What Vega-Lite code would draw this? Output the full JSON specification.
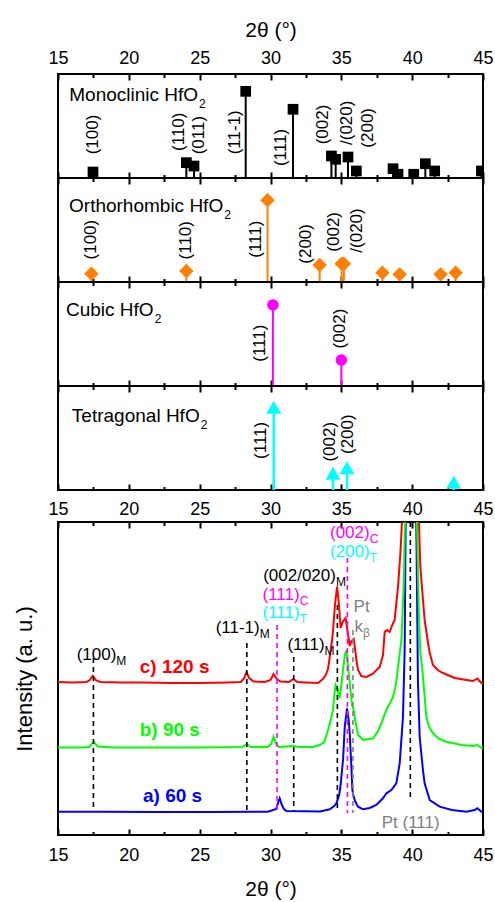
{
"$schema":"https://vega.github.io/schema/vega-lite/v6.json",
"background":"white",
"padding":{"left":12,"top":18,"right":5,"bottom":0},
"config":{"font":"Liberation Sans","view":{"stroke":"black","strokeWidth":2},
 "axis":{"labelFont":"Liberation Sans","titleFont":"Liberation Sans","labelColor":"black","titleColor":"black","tickColor":"black","tickWidth":2,"domain":false,"grid":false,"labelFontSize":18,"titleFontSize":21,"titleFontWeight":"normal","labelFlush":false,"labelOverlap":false,"labelBound":false},
 "text":{"font":"Liberation Sans"}},
"datasets":{
"sticks":[
{"phase":"Monoclinic","two_theta":17.47,"intensity":6.9},
{"phase":"Monoclinic","two_theta":24.06,"intensity":17.7},
{"phase":"Monoclinic","two_theta":24.60,"intensity":13.8},
{"phase":"Monoclinic","two_theta":28.25,"intensity":100},
{"phase":"Monoclinic","two_theta":31.59,"intensity":79.3},
{"phase":"Monoclinic","two_theta":34.30,"intensity":25.4},
{"phase":"Monoclinic","two_theta":34.60,"intensity":21.6},
{"phase":"Monoclinic","two_theta":35.47,"intensity":24.2},
{"phase":"Monoclinic","two_theta":36.06,"intensity":8.1},
{"phase":"Monoclinic","two_theta":38.65,"intensity":10.7},
{"phase":"Monoclinic","two_theta":39.00,"intensity":4.3},
{"phase":"Monoclinic","two_theta":40.11,"intensity":4.3},
{"phase":"Monoclinic","two_theta":40.93,"intensity":16.5},
{"phase":"Monoclinic","two_theta":41.59,"intensity":8.1},
{"phase":"Monoclinic","two_theta":44.89,"intensity":8.1},
{"phase":"Orthorhombic","two_theta":17.36,"intensity":9.6},
{"phase":"Orthorhombic","two_theta":24.06,"intensity":12.7},
{"phase":"Orthorhombic","two_theta":29.79,"intensity":94.2},
{"phase":"Orthorhombic","two_theta":33.47,"intensity":19.6},
{"phase":"Orthorhombic","two_theta":35.02,"intensity":21},
{"phase":"Orthorhombic","two_theta":35.18,"intensity":21},
{"phase":"Orthorhombic","two_theta":37.90,"intensity":10.7},
{"phase":"Orthorhombic","two_theta":39.12,"intensity":8.8},
{"phase":"Orthorhombic","two_theta":42.01,"intensity":8.8},
{"phase":"Orthorhombic","two_theta":43.07,"intensity":10.7},
{"phase":"Cubic","two_theta":30.17,"intensity":93.5},
{"phase":"Cubic","two_theta":35.0,"intensity":30},
{"phase":"Tetragonal","two_theta":30.23,"intensity":95.4},
{"phase":"Tetragonal","two_theta":34.41,"intensity":19.3},
{"phase":"Tetragonal","two_theta":35.40,"intensity":25.6},
{"phase":"Tetragonal","two_theta":42.93,"intensity":8.9}
],
"hkl":[
{"phase":"Monoclinic","label":"(100)","two_theta":17.47,"y":27.3},
{"phase":"Monoclinic","label":"(110)","two_theta":23.52,"y":31.2},
{"phase":"Monoclinic","label":"(011)","two_theta":24.93,"y":27.3},
{"phase":"Monoclinic","label":"(11-1)","two_theta":27.47,"y":27.3},
{"phase":"Monoclinic","label":"(111)","two_theta":30.77,"y":13.8},
{"phase":"Monoclinic","label":"(002)","two_theta":33.71,"y":38.9},
{"phase":"Monoclinic","label":"/(020)","two_theta":35.40,"y":38.1},
{"phase":"Monoclinic","label":"(200)","two_theta":36.88,"y":35},
{"phase":"Orthorhombic","label":"(100)","two_theta":17.36,"y":26},
{"phase":"Orthorhombic","label":"(110)","two_theta":24.06,"y":26},
{"phase":"Orthorhombic","label":"(111)","two_theta":29.0,"y":28},
{"phase":"Orthorhombic","label":"(200)","two_theta":32.48,"y":21.1},
{"phase":"Orthorhombic","label":"(002)","two_theta":34.46,"y":35},
{"phase":"Orthorhombic","label":"/(020)","two_theta":36.1,"y":33.8},
{"phase":"Cubic","label":"(111)","two_theta":29.23,"y":28},
{"phase":"Cubic","label":"(002)","two_theta":34.88,"y":43.4},
{"phase":"Tetragonal","label":"(111)","two_theta":29.36,"y":35.8},
{"phase":"Tetragonal","label":"(002)","two_theta":34.23,"y":32.8},
{"phase":"Tetragonal","label":"(200)","two_theta":35.47,"y":41.5}
],
"phases":[
{"phase":"Monoclinic","name":"Monoclinic HfO","sub":"2","end":24.89,"y":88.3},
{"phase":"Orthorhombic","name":"Orthorhombic HfO","sub":"2","end":26.66,"y":80.8},
{"phase":"Cubic","name":"Cubic HfO","sub":"2","end":21.75,"y":81},
{"phase":"Tetragonal","name":"Tetragonal HfO","sub":"2","end":25.0,"y":79}
],
"xrd":[
{"sample":"a) 60 s","two_theta":15,"intensity":23.3},{"sample":"a) 60 s","two_theta":18,"intensity":23.3},{"sample":"a) 60 s","two_theta":22,"intensity":23},{"sample":"a) 60 s","two_theta":26,"intensity":23},{"sample":"a) 60 s","two_theta":29.82,"intensity":23.3},{"sample":"a) 60 s","two_theta":30.4,"intensity":26},{"sample":"a) 60 s","two_theta":30.55,"intensity":33},{"sample":"a) 60 s","two_theta":30.65,"intensity":36.7},{"sample":"a) 60 s","two_theta":30.8,"intensity":30},{"sample":"a) 60 s","two_theta":30.95,"intensity":26},{"sample":"a) 60 s","two_theta":31.12,"intensity":24},{"sample":"a) 60 s","two_theta":33.5,"intensity":23.5},{"sample":"a) 60 s","two_theta":34.18,"intensity":25.7},{"sample":"a) 60 s","two_theta":34.5,"intensity":29},{"sample":"a) 60 s","two_theta":34.65,"intensity":31.7},{"sample":"a) 60 s","two_theta":34.85,"intensity":40},{"sample":"a) 60 s","two_theta":34.95,"intensity":50},{"sample":"a) 60 s","two_theta":35.05,"intensity":65},{"sample":"a) 60 s","two_theta":35.12,"intensity":75},{"sample":"a) 60 s","two_theta":35.24,"intensity":108},{"sample":"a) 60 s","two_theta":35.4,"intensity":126.7},{"sample":"a) 60 s","two_theta":35.52,"intensity":115},{"sample":"a) 60 s","two_theta":35.59,"intensity":102},{"sample":"a) 60 s","two_theta":35.71,"intensity":68},{"sample":"a) 60 s","two_theta":35.78,"intensity":45},{"sample":"a) 60 s","two_theta":35.87,"intensity":38.3},{"sample":"a) 60 s","two_theta":36.0,"intensity":33},{"sample":"a) 60 s","two_theta":36.18,"intensity":28.3},{"sample":"a) 60 s","two_theta":36.53,"intensity":25.7},{"sample":"a) 60 s","two_theta":37.0,"intensity":27},{"sample":"a) 60 s","two_theta":37.47,"intensity":30},{"sample":"a) 60 s","two_theta":37.94,"intensity":36.7},{"sample":"a) 60 s","two_theta":38.18,"intensity":41.7},{"sample":"a) 60 s","two_theta":38.53,"intensity":45},{"sample":"a) 60 s","two_theta":38.88,"intensity":51.7},{"sample":"a) 60 s","two_theta":39.12,"intensity":71.7},{"sample":"a) 60 s","two_theta":39.35,"intensity":118},{"sample":"a) 60 s","two_theta":39.47,"intensity":185},{"sample":"a) 60 s","two_theta":39.54,"intensity":313},{"sample":"a) 60 s","two_theta":39.85,"intensity":2000},{"sample":"a) 60 s","two_theta":40.29,"intensity":313},{"sample":"a) 60 s","two_theta":40.41,"intensity":152},{"sample":"a) 60 s","two_theta":40.53,"intensity":98},{"sample":"a) 60 s","two_theta":40.76,"intensity":65},{"sample":"a) 60 s","two_theta":40.88,"intensity":51.7},{"sample":"a) 60 s","two_theta":41.24,"intensity":35},{"sample":"a) 60 s","two_theta":41.94,"intensity":28.3},{"sample":"a) 60 s","two_theta":42.8,"intensity":25},{"sample":"a) 60 s","two_theta":43.83,"intensity":23.3},{"sample":"a) 60 s","two_theta":44.41,"intensity":25},{"sample":"a) 60 s","two_theta":44.6,"intensity":26.7},{"sample":"a) 60 s","two_theta":44.89,"intensity":23.3},{"sample":"a) 60 s","two_theta":45,"intensity":23.3},
{"sample":"b) 90 s","two_theta":15,"intensity":87.5},{"sample":"b) 90 s","two_theta":16.5,"intensity":87.5},{"sample":"b) 90 s","two_theta":17.2,"intensity":88},{"sample":"b) 90 s","two_theta":17.52,"intensity":93.3},{"sample":"b) 90 s","two_theta":17.8,"intensity":88.5},{"sample":"b) 90 s","two_theta":19,"intensity":87.5},{"sample":"b) 90 s","two_theta":22,"intensity":87.5},{"sample":"b) 90 s","two_theta":25,"intensity":87.5},{"sample":"b) 90 s","two_theta":28.0,"intensity":88},{"sample":"b) 90 s","two_theta":28.34,"intensity":90.7},{"sample":"b) 90 s","two_theta":28.6,"intensity":88},{"sample":"b) 90 s","two_theta":29.8,"intensity":88},{"sample":"b) 90 s","two_theta":30.05,"intensity":91},{"sample":"b) 90 s","two_theta":30.22,"intensity":98.3},{"sample":"b) 90 s","two_theta":30.4,"intensity":91},{"sample":"b) 90 s","two_theta":30.6,"intensity":88},{"sample":"b) 90 s","two_theta":31.6,"intensity":89},{"sample":"b) 90 s","two_theta":32,"intensity":88},{"sample":"b) 90 s","two_theta":33.0,"intensity":88},{"sample":"b) 90 s","two_theta":33.47,"intensity":90},{"sample":"b) 90 s","two_theta":33.8,"intensity":93},{"sample":"b) 90 s","two_theta":34.06,"intensity":105},{"sample":"b) 90 s","two_theta":34.25,"intensity":115},{"sample":"b) 90 s","two_theta":34.41,"intensity":125},{"sample":"b) 90 s","two_theta":34.52,"intensity":142},{"sample":"b) 90 s","two_theta":34.6,"intensity":150},{"sample":"b) 90 s","two_theta":34.72,"intensity":146},{"sample":"b) 90 s","two_theta":34.88,"intensity":137},{"sample":"b) 90 s","two_theta":35.0,"intensity":150},{"sample":"b) 90 s","two_theta":35.12,"intensity":165},{"sample":"b) 90 s","two_theta":35.25,"intensity":180},{"sample":"b) 90 s","two_theta":35.36,"intensity":185},{"sample":"b) 90 s","two_theta":35.48,"intensity":168},{"sample":"b) 90 s","two_theta":35.64,"intensity":145},{"sample":"b) 90 s","two_theta":35.76,"intensity":130},{"sample":"b) 90 s","two_theta":35.87,"intensity":125},{"sample":"b) 90 s","two_theta":36.0,"intensity":113},{"sample":"b) 90 s","two_theta":36.18,"intensity":100},{"sample":"b) 90 s","two_theta":36.53,"intensity":95},{"sample":"b) 90 s","two_theta":37.24,"intensity":96.7},{"sample":"b) 90 s","two_theta":37.6,"intensity":104},{"sample":"b) 90 s","two_theta":37.82,"intensity":111.7},{"sample":"b) 90 s","two_theta":38.18,"intensity":125},{"sample":"b) 90 s","two_theta":38.65,"intensity":138},{"sample":"b) 90 s","two_theta":38.85,"intensity":150},{"sample":"b) 90 s","two_theta":39.0,"intensity":168},{"sample":"b) 90 s","two_theta":39.24,"intensity":195},{"sample":"b) 90 s","two_theta":39.4,"intensity":248},{"sample":"b) 90 s","two_theta":39.49,"intensity":313},{"sample":"b) 90 s","two_theta":39.85,"intensity":2000},{"sample":"b) 90 s","two_theta":40.34,"intensity":313},{"sample":"b) 90 s","two_theta":40.48,"intensity":215},{"sample":"b) 90 s","two_theta":40.58,"intensity":182},{"sample":"b) 90 s","two_theta":40.72,"intensity":165},{"sample":"b) 90 s","two_theta":41.0,"intensity":118},{"sample":"b) 90 s","two_theta":41.2,"intensity":108},{"sample":"b) 90 s","two_theta":41.47,"intensity":101.7},{"sample":"b) 90 s","two_theta":41.9,"intensity":96},{"sample":"b) 90 s","two_theta":42.41,"intensity":93.3},{"sample":"b) 90 s","two_theta":43.5,"intensity":90},{"sample":"b) 90 s","two_theta":44.3,"intensity":89},{"sample":"b) 90 s","two_theta":44.6,"intensity":90},{"sample":"b) 90 s","two_theta":44.89,"intensity":87},{"sample":"b) 90 s","two_theta":45,"intensity":87.5},
{"sample":"c) 120 s","two_theta":15,"intensity":153},{"sample":"c) 120 s","two_theta":16,"intensity":152.5},{"sample":"c) 120 s","two_theta":17,"intensity":153},{"sample":"c) 120 s","two_theta":17.25,"intensity":155},{"sample":"c) 120 s","two_theta":17.45,"intensity":159},{"sample":"c) 120 s","two_theta":17.7,"intensity":154.5},{"sample":"c) 120 s","two_theta":18,"intensity":153},{"sample":"c) 120 s","two_theta":19.5,"intensity":152.5},{"sample":"c) 120 s","two_theta":21,"intensity":152.5},{"sample":"c) 120 s","two_theta":23,"intensity":152},{"sample":"c) 120 s","two_theta":25,"intensity":152},{"sample":"c) 120 s","two_theta":27,"intensity":152.5},{"sample":"c) 120 s","two_theta":27.9,"intensity":153},{"sample":"c) 120 s","two_theta":28.15,"intensity":157},{"sample":"c) 120 s","two_theta":28.3,"intensity":163},{"sample":"c) 120 s","two_theta":28.5,"intensity":157},{"sample":"c) 120 s","two_theta":28.8,"intensity":153.5},{"sample":"c) 120 s","two_theta":29.6,"intensity":153},{"sample":"c) 120 s","two_theta":30.0,"intensity":155},{"sample":"c) 120 s","two_theta":30.22,"intensity":161},{"sample":"c) 120 s","two_theta":30.45,"intensity":156},{"sample":"c) 120 s","two_theta":30.7,"intensity":153.5},{"sample":"c) 120 s","two_theta":31.3,"intensity":153},{"sample":"c) 120 s","two_theta":31.6,"intensity":156},{"sample":"c) 120 s","two_theta":31.9,"intensity":153},{"sample":"c) 120 s","two_theta":32.5,"intensity":152.5},{"sample":"c) 120 s","two_theta":33.35,"intensity":152},{"sample":"c) 120 s","two_theta":33.7,"intensity":156},{"sample":"c) 120 s","two_theta":33.9,"intensity":160},{"sample":"c) 120 s","two_theta":34.06,"intensity":166},{"sample":"c) 120 s","two_theta":34.18,"intensity":178},{"sample":"c) 120 s","two_theta":34.3,"intensity":190},{"sample":"c) 120 s","two_theta":34.4,"intensity":202},{"sample":"c) 120 s","two_theta":34.55,"intensity":230},{"sample":"c) 120 s","two_theta":34.7,"intensity":248.5},{"sample":"c) 120 s","two_theta":34.82,"intensity":232},{"sample":"c) 120 s","two_theta":34.95,"intensity":207},{"sample":"c) 120 s","two_theta":35.1,"intensity":213},{"sample":"c) 120 s","two_theta":35.3,"intensity":217},{"sample":"c) 120 s","two_theta":35.45,"intensity":203},{"sample":"c) 120 s","two_theta":35.59,"intensity":189},{"sample":"c) 120 s","two_theta":35.72,"intensity":194},{"sample":"c) 120 s","two_theta":35.87,"intensity":196},{"sample":"c) 120 s","two_theta":36.0,"intensity":183},{"sample":"c) 120 s","two_theta":36.06,"intensity":175},{"sample":"c) 120 s","two_theta":36.18,"intensity":165},{"sample":"c) 120 s","two_theta":36.41,"intensity":159},{"sample":"c) 120 s","two_theta":36.77,"intensity":158},{"sample":"c) 120 s","two_theta":37.2,"intensity":161},{"sample":"c) 120 s","two_theta":37.71,"intensity":168},{"sample":"c) 120 s","two_theta":37.94,"intensity":180},{"sample":"c) 120 s","two_theta":38.06,"intensity":203},{"sample":"c) 120 s","two_theta":38.22,"intensity":205},{"sample":"c) 120 s","two_theta":38.41,"intensity":203},{"sample":"c) 120 s","two_theta":38.6,"intensity":210},{"sample":"c) 120 s","two_theta":38.76,"intensity":215},{"sample":"c) 120 s","two_theta":39.0,"intensity":248},{"sample":"c) 120 s","two_theta":39.17,"intensity":282},{"sample":"c) 120 s","two_theta":39.28,"intensity":313},{"sample":"c) 120 s","two_theta":39.85,"intensity":2000},{"sample":"c) 120 s","two_theta":40.48,"intensity":313},{"sample":"c) 120 s","two_theta":40.57,"intensity":270},{"sample":"c) 120 s","two_theta":40.65,"intensity":255},{"sample":"c) 120 s","two_theta":40.88,"intensity":215},{"sample":"c) 120 s","two_theta":41.12,"intensity":192},{"sample":"c) 120 s","two_theta":41.24,"intensity":182},{"sample":"c) 120 s","two_theta":41.47,"intensity":170},{"sample":"c) 120 s","two_theta":41.8,"intensity":165},{"sample":"c) 120 s","two_theta":42.18,"intensity":162},{"sample":"c) 120 s","two_theta":43.0,"intensity":157},{"sample":"c) 120 s","two_theta":43.83,"intensity":155},{"sample":"c) 120 s","two_theta":44.3,"intensity":154},{"sample":"c) 120 s","two_theta":44.6,"intensity":156.5},{"sample":"c) 120 s","two_theta":44.89,"intensity":152},{"sample":"c) 120 s","two_theta":45,"intensity":152.5}
],
"refs":[
{"kind":"M","two_theta":17.5,"top":177,"bottom":27},
{"kind":"M","two_theta":28.33,"top":192,"bottom":24},
{"kind":"M","two_theta":31.64,"top":178,"bottom":24},
{"kind":"M","two_theta":34.72,"top":230,"bottom":24},
{"kind":"C","two_theta":30.46,"top":210,"bottom":24},
{"kind":"C","two_theta":35.43,"top":277,"bottom":22},
{"kind":"Pt kβ","two_theta":35.82,"top":205,"bottom":22},
{"kind":"Pt","two_theta":39.87,"top":313,"bottom":35}
],
"annot":[
{"label":"(100)","sub":"M","kind":"M","anchor":19.12,"y":180},
{"label":"(11-1)","sub":"M","kind":"M","anchor":29.24,"y":206.7},
{"label":"(111)","sub":"M","kind":"M","anchor":33.82,"y":190},
{"label":"(002/020)","sub":"M","kind":"M","anchor":34.62,"y":259},
{"label":"(111)","sub":"C","kind":"C","anchor":32.06,"y":240},
{"label":"(111)","sub":"T","kind":"T","anchor":32.06,"y":221.7},
{"label":"(002)","sub":"C","kind":"C","anchor":37.0,"y":301.7},
{"label":"(200)","sub":"T","kind":"T","anchor":37.0,"y":283.3},
{"label":"Pt","sub":"","kind":"Pt","anchor":37.0,"y":227.7},
{"label":"k","sub":"β","kind":"Pt","anchor":36.53,"y":207.7},
{"label":"Pt (111)","sub":"","kind":"Pt","anchor":41.94,"y":12.3}
],
"samples":[
{"sample":"c) 120 s","x":20.77,"y":168.3},
{"sample":"b) 90 s","x":20.77,"y":105},
{"sample":"a) 60 s","x":21.0,"y":39}
]
},
"spacing":-2,
"vconcat":[
{"spacing":0,"bounds":"flush","vconcat":[
{"width":425,"height":104,
 "layer":[
  {"data":{"name":"sticks"},"transform":[{"filter":"datum.phase === 'Monoclinic'"}],
   "mark":{"type":"rule","color":"black","strokeWidth":2,"clip":true},
   "encoding":{"x":{"field":"two_theta","type":"quantitative","scale":{"domain":[15,45],"nice":false,"zero":false},
      "axis":{"orient":"bottom","values":[15,17.5,20,22.5,25,27.5,30,32.5,35,37.5,40,42.5,45],"labels":false,"title":null,"tickSize":{"expr":"datum.value % 5 === 0 ? -6 : -3.5"}}},
    "y":{"field":"intensity","type":"quantitative","scale":{"domain":[0,120],"nice":false},"axis":null},
    "y2":{"datum":0}}},
  {"data":{"name":"sticks"},"transform":[{"filter":"datum.phase === 'Monoclinic'"}],
   "mark":{"type":"point","shape":"square","filled":true,"size":115,"color":"black","opacity":1,"clip":true},
   "encoding":{"x":{"field":"two_theta","type":"quantitative",
      "axis":{"orient":"top","values":[15,17.5,20,22.5,25,27.5,30,32.5,35,37.5,40,42.5,45],"labelExpr":"datum.value % 5 === 0 ? format(datum.value, 'd') : ''","labelPadding":13,"title":"2θ (°)","titlePadding":6,"tickSize":{"expr":"datum.value % 5 === 0 ? -6 : -3.5"}}},
    "y":{"field":"intensity","type":"quantitative","axis":null}}},
  {"data":{"name":"hkl"},"transform":[{"filter":"datum.phase === 'Monoclinic'"}],
   "mark":{"type":"text","angle":270,"align":"left","baseline":"middle","fontSize":17,"color":"black"},
   "encoding":{"x":{"field":"two_theta","type":"quantitative","axis":null},"y":{"field":"y","type":"quantitative","axis":null},"text":{"field":"label"}}},
  {"data":{"name":"phases"},"transform":[{"filter":"datum.phase === 'Monoclinic'"}],
   "mark":{"type":"text","align":"right","baseline":"alphabetic","fontSize":19,"color":"black"},
   "encoding":{"x":{"field":"end","type":"quantitative","axis":null},"y":{"field":"y","type":"quantitative","axis":null},"text":{"field":"name"}}},
  {"data":{"name":"phases"},"transform":[{"filter":"datum.phase === 'Monoclinic'"}],
   "mark":{"type":"text","align":"left","baseline":"alphabetic","fontSize":12,"dy":7,"dx":1,"color":"black"},
   "encoding":{"x":{"field":"end","type":"quantitative","axis":null},"y":{"field":"y","type":"quantitative","axis":null},"text":{"field":"sub"}}}
 ],
 "resolve":{"axis":{"x":"independent"}}},
{"width":425,"height":104,
 "layer":[
  {"data":{"name":"sticks"},"transform":[{"filter":"datum.phase === 'Orthorhombic'"}],
   "mark":{"type":"rule","color":"#FF8000","strokeWidth":2,"clip":true},
   "encoding":{"x":{"field":"two_theta","type":"quantitative","scale":{"domain":[15,45],"nice":false,"zero":false},
      "axis":{"orient":"bottom","values":[15,17.5,20,22.5,25,27.5,30,32.5,35,37.5,40,42.5,45],"labels":false,"title":null,"tickSize":{"expr":"datum.value % 5 === 0 ? -6 : -3.5"}}},
    "y":{"field":"intensity","type":"quantitative","scale":{"domain":[0,120],"nice":false},"axis":null},
    "y2":{"datum":0}}},
  {"data":{"name":"sticks"},"transform":[{"filter":"datum.phase === 'Orthorhombic'"}],
   "mark":{"type":"point","shape":"diamond","filled":true,"size":210,"color":"#FF8000","opacity":1,"clip":true},
   "encoding":{"x":{"field":"two_theta","type":"quantitative",
      "axis":{"orient":"top","values":[15,17.5,20,22.5,25,27.5,30,32.5,35,37.5,40,42.5,45],"labels":false,"title":null,"tickSize":{"expr":"datum.value % 5 === 0 ? -6 : -3.5"}}},
    "y":{"field":"intensity","type":"quantitative","axis":null}}},
  {"data":{"name":"hkl"},"transform":[{"filter":"datum.phase === 'Orthorhombic'"}],
   "mark":{"type":"text","angle":270,"align":"left","baseline":"middle","fontSize":17,"color":"black"},
   "encoding":{"x":{"field":"two_theta","type":"quantitative","axis":null},"y":{"field":"y","type":"quantitative","axis":null},"text":{"field":"label"}}},
  {"data":{"name":"phases"},"transform":[{"filter":"datum.phase === 'Orthorhombic'"}],
   "mark":{"type":"text","align":"right","baseline":"alphabetic","fontSize":19,"color":"black"},
   "encoding":{"x":{"field":"end","type":"quantitative","axis":null},"y":{"field":"y","type":"quantitative","axis":null},"text":{"field":"name"}}},
  {"data":{"name":"phases"},"transform":[{"filter":"datum.phase === 'Orthorhombic'"}],
   "mark":{"type":"text","align":"left","baseline":"alphabetic","fontSize":12,"dy":7,"dx":1,"color":"black"},
   "encoding":{"x":{"field":"end","type":"quantitative","axis":null},"y":{"field":"y","type":"quantitative","axis":null},"text":{"field":"sub"}}}
 ],
 "resolve":{"axis":{"x":"independent"}}},
{"width":425,"height":104,
 "layer":[
  {"data":{"name":"sticks"},"transform":[{"filter":"datum.phase === 'Cubic'"}],
   "mark":{"type":"rule","color":"#FF00FF","strokeWidth":2,"clip":true},
   "encoding":{"x":{"field":"two_theta","type":"quantitative","scale":{"domain":[15,45],"nice":false,"zero":false},
      "axis":{"orient":"bottom","values":[15,17.5,20,22.5,25,27.5,30,32.5,35,37.5,40,42.5,45],"labels":false,"title":null,"tickSize":{"expr":"datum.value % 5 === 0 ? -6 : -3.5"}}},
    "y":{"field":"intensity","type":"quantitative","scale":{"domain":[0,120],"nice":false},"axis":null},
    "y2":{"datum":0}}},
  {"data":{"name":"sticks"},"transform":[{"filter":"datum.phase === 'Cubic'"}],
   "mark":{"type":"point","shape":"circle","filled":true,"size":135,"color":"#FF00FF","opacity":1,"clip":true},
   "encoding":{"x":{"field":"two_theta","type":"quantitative",
      "axis":{"orient":"top","values":[15,17.5,20,22.5,25,27.5,30,32.5,35,37.5,40,42.5,45],"labels":false,"title":null,"tickSize":{"expr":"datum.value % 5 === 0 ? -6 : -3.5"}}},
    "y":{"field":"intensity","type":"quantitative","axis":null}}},
  {"data":{"name":"hkl"},"transform":[{"filter":"datum.phase === 'Cubic'"}],
   "mark":{"type":"text","angle":270,"align":"left","baseline":"middle","fontSize":17,"color":"black"},
   "encoding":{"x":{"field":"two_theta","type":"quantitative","axis":null},"y":{"field":"y","type":"quantitative","axis":null},"text":{"field":"label"}}},
  {"data":{"name":"phases"},"transform":[{"filter":"datum.phase === 'Cubic'"}],
   "mark":{"type":"text","align":"right","baseline":"alphabetic","fontSize":19,"color":"black"},
   "encoding":{"x":{"field":"end","type":"quantitative","axis":null},"y":{"field":"y","type":"quantitative","axis":null},"text":{"field":"name"}}},
  {"data":{"name":"phases"},"transform":[{"filter":"datum.phase === 'Cubic'"}],
   "mark":{"type":"text","align":"left","baseline":"alphabetic","fontSize":12,"dy":7,"dx":1,"color":"black"},
   "encoding":{"x":{"field":"end","type":"quantitative","axis":null},"y":{"field":"y","type":"quantitative","axis":null},"text":{"field":"sub"}}}
 ],
 "resolve":{"axis":{"x":"independent"}}},
{"width":425,"height":104,
 "layer":[
  {"data":{"name":"sticks"},"transform":[{"filter":"datum.phase === 'Tetragonal'"}],
   "mark":{"type":"rule","color":"#00FFFF","strokeWidth":2.5,"clip":true},
   "encoding":{"x":{"field":"two_theta","type":"quantitative","scale":{"domain":[15,45],"nice":false,"zero":false},
      "axis":{"orient":"bottom","values":[15,17.5,20,22.5,25,27.5,30,32.5,35,37.5,40,42.5,45],"labelExpr":"datum.value % 5 === 0 ? format(datum.value, 'd') : ''","labelPadding":16,"title":null,"tickSize":{"expr":"datum.value % 5 === 0 ? -6 : -3.5"}}},
    "y":{"field":"intensity","type":"quantitative","scale":{"domain":[0,120],"nice":false},"axis":null},
    "y2":{"datum":0}}},
  {"data":{"name":"sticks"},"transform":[{"filter":"datum.phase === 'Tetragonal'"}],
   "mark":{"type":"point","shape":"triangle-up","filled":true,"size":225,"color":"#00FFFF","opacity":1,"clip":true},
   "encoding":{"x":{"field":"two_theta","type":"quantitative",
      "axis":{"orient":"top","values":[15,17.5,20,22.5,25,27.5,30,32.5,35,37.5,40,42.5,45],"labels":false,"title":null,"tickSize":{"expr":"datum.value % 5 === 0 ? -6 : -3.5"}}},
    "y":{"field":"intensity","type":"quantitative","axis":null}}},
  {"data":{"name":"hkl"},"transform":[{"filter":"datum.phase === 'Tetragonal'"}],
   "mark":{"type":"text","angle":270,"align":"left","baseline":"middle","fontSize":17,"color":"black"},
   "encoding":{"x":{"field":"two_theta","type":"quantitative","axis":null},"y":{"field":"y","type":"quantitative","axis":null},"text":{"field":"label"}}},
  {"data":{"name":"phases"},"transform":[{"filter":"datum.phase === 'Tetragonal'"}],
   "mark":{"type":"text","align":"right","baseline":"alphabetic","fontSize":19,"color":"black"},
   "encoding":{"x":{"field":"end","type":"quantitative","axis":null},"y":{"field":"y","type":"quantitative","axis":null},"text":{"field":"name"}}},
  {"data":{"name":"phases"},"transform":[{"filter":"datum.phase === 'Tetragonal'"}],
   "mark":{"type":"text","align":"left","baseline":"alphabetic","fontSize":12,"dy":7,"dx":1,"color":"black"},
   "encoding":{"x":{"field":"end","type":"quantitative","axis":null},"y":{"field":"y","type":"quantitative","axis":null},"text":{"field":"sub"}}}
 ],
 "resolve":{"axis":{"x":"independent"}}}
]},
{"width":425,"height":313,
 "layer":[
  {"data":{"name":"xrd"},
   "mark":{"type":"line","strokeWidth":2,"clip":true},
   "encoding":{"x":{"field":"two_theta","type":"quantitative","scale":{"domain":[15,45],"nice":false,"zero":false},
      "axis":{"orient":"bottom","values":[15,17.5,20,22.5,25,27.5,30,32.5,35,37.5,40,42.5,45],"labelExpr":"datum.value % 5 === 0 ? format(datum.value, 'd') : ''","labelPadding":17,"title":"2θ (°)","titlePadding":12,"tickSize":{"expr":"datum.value % 5 === 0 ? -6 : -3.5"}}},
    "y":{"field":"intensity","type":"quantitative","scale":{"domain":[0,313],"nice":false},"axis":{"title":"Intensity (a. u.)","labels":false,"ticks":false,"titleFontSize":22,"titlePadding":22}},
    "color":{"field":"sample","type":"nominal","scale":{"domain":["a) 60 s","b) 90 s","c) 120 s"],"range":["#0000FF","#00FF00","#FF0000"]},"legend":null},
    "order":{"field":"two_theta","type":"quantitative"}}},
  {"data":{"name":"refs"},
   "mark":{"type":"rule","strokeDash":[5,4],"strokeWidth":1.6},
   "encoding":{"x":{"field":"two_theta","type":"quantitative",
      "axis":{"orient":"top","values":[15,17.5,20,22.5,25,27.5,30,32.5,35,37.5,40,42.5,45],"labels":false,"title":null,"tickSize":{"expr":"datum.value % 5 === 0 ? -6 : -3.5"}}},
    "y":{"field":"top","type":"quantitative"},"y2":{"field":"bottom"},
    "color":{"field":"kind","type":"nominal","scale":{"domain":["M","C","Pt kβ","Pt"],"range":["#000000","#FF00FF","#808080","#000000"]},"legend":null}}},
  {"data":{"name":"annot"},
   "mark":{"type":"text","align":"right","baseline":"middle","fontSize":17},
   "encoding":{"x":{"field":"anchor","type":"quantitative","axis":null},"y":{"field":"y","type":"quantitative"},"text":{"field":"label"},
    "color":{"field":"kind","type":"nominal","scale":{"domain":["M","C","T","Pt"],"range":["#000000","#FF00FF","#00FFFF","#808080"]},"legend":null}}},
  {"data":{"name":"annot"},
   "mark":{"type":"text","align":"left","baseline":"middle","fontSize":12,"dy":6},
   "encoding":{"x":{"field":"anchor","type":"quantitative","axis":null},"y":{"field":"y","type":"quantitative"},"text":{"field":"sub"},
    "color":{"field":"kind","type":"nominal","scale":{"domain":["M","C","T","Pt"],"range":["#000000","#FF00FF","#00FFFF","#808080"]},"legend":null}}},
  {"data":{"name":"samples"},
   "mark":{"type":"text","align":"left","baseline":"middle","fontSize":19,"fontWeight":"bold"},
   "encoding":{"x":{"field":"x","type":"quantitative","axis":null},"y":{"field":"y","type":"quantitative"},"text":{"field":"sample"},
    "color":{"field":"sample","type":"nominal","scale":{"domain":["a) 60 s","b) 90 s","c) 120 s"],"range":["#0000FF","#00FF00","#FF0000"]},"legend":null}}}
 ],
 "resolve":{"axis":{"x":"independent"},"scale":{"color":"independent"}}}
]
}
